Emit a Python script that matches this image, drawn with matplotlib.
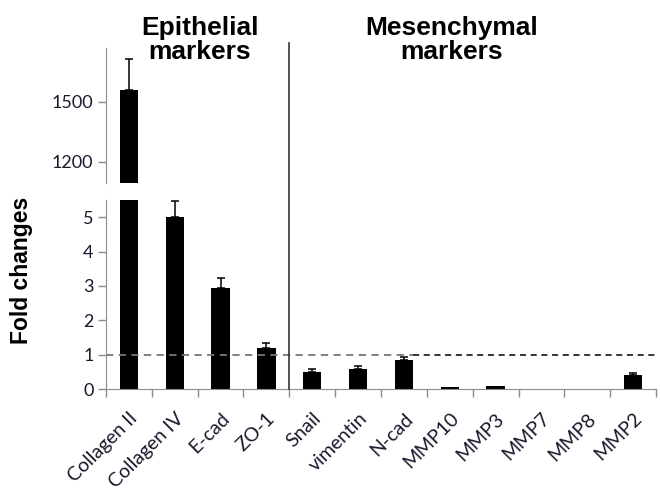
import numpy as np
import matplotlib
matplotlib.use('Agg')
import matplotlib.pyplot as plt
from matplotlib import transforms

markers = ["Collagen II", "Collagen IV", "E-cad", "ZO-1", "Snail", "vimentin",
           "N-cad", "MMP10", "MMP3", "MMP7", "MMP8", "MMP2"]
fold = [1560, 5.0, 2.93, 1.2, 0.5, 0.59, 0.85, 0.05, 0.1, 0.0, 0.0, 0.42]
err = [155, 0.47, 0.29, 0.13, 0.08, 0.09, 0.08, 0.0, 0.0, 0.0, 0.0, 0.04]
low_ticks = [0, 1, 2, 3, 4, 5]
high_ticks = [1200, 1500]
n_epithelial = 4

W, H = 660, 496
fig = plt.figure(figsize=(W / 100, H / 100), dpi=100)
ax_lo = fig.add_axes([106 / W, 1 - 389 / H, 550 / W, 189 / H])
ax_hi = fig.add_axes([106 / W, 1 - 183 / H, 550 / W, 135 / H])

x = np.arange(len(markers))
fold_arr = np.array(fold)
err_arr = np.array(err)
has_err = err_arr > 0
grey = '#8c8c8c'
tick_font = {'family': 'Lato', 'size': 13, 'color': '#1a1a2e'}

for ax in (ax_lo, ax_hi):
    ax.bar(x, fold, width=0.4, color='black')
    ax.errorbar(x[has_err], fold_arr[has_err],
                yerr=[np.zeros(has_err.sum()), err_arr[has_err]],
                fmt='none', ecolor='black', elinewidth=1.1, capsize=3.2, capthick=1.1)
    ax.set_xlim(-0.5, len(markers) - 0.5)
    for s in ('top', 'right'):
        ax.spines[s].set_visible(False)
    ax.spines['left'].set_color(grey)
    ax.tick_params(axis='y', direction='out', length=5.5, color=grey, width=1)
    ax.set_facecolor('none')

ax_lo.set_ylim(0, 5.5)
ax_lo.set_yticks(low_ticks)
ax_lo.set_yticklabels([str(t) for t in low_ticks], fontdict=tick_font)
ax_lo.spines['bottom'].set_color(grey)
ax_lo.set_xticks(x)
ax_lo.set_xticks(np.arange(len(markers) + 1) - 0.5, minor=True)
ax_lo.tick_params(axis='x', which='major', length=0, pad=15)
ax_lo.tick_params(axis='x', which='minor', direction='out', length=6, color=grey, width=1)
ax_lo.set_xticklabels(markers, rotation=45, ha='right', va='top',
                      rotation_mode='anchor', fontdict=dict(tick_font, size=14))

ax_hi.set_ylim(1095, 1770)
ax_hi.set_yticks(high_ticks)
ax_hi.set_yticklabels([str(t) for t in high_ticks], fontdict=tick_font)
ax_hi.spines['bottom'].set_visible(False)
ax_hi.set_xticks([])

# reference line at 1-fold
ax_lo.hlines(1, -0.5, 6.2, colors='#777777', linestyles=(0, (4, 3)), linewidth=1.3)
ax_lo.hlines(1, 6.2, len(markers) - 0.5, colors='black', linestyles=(0, (4, 3)), linewidth=1.1)

# separator between the two marker groups
blend = transforms.blended_transform_factory(ax_lo.transData, fig.transFigure)
fig.add_artist(plt.Line2D([n_epithelial - 0.5] * 2, [1 - 389 / H, 1 - 43 / H],
                          transform=blend, color='#333333', linewidth=1.2))

fig.text(200 / W, 1 - 40 / H, "Epithelial\nmarkers", ha='center', va='center',
         family='Liberation Sans', weight='bold', size=19, linespacing=1.05)
fig.text(452 / W, 1 - 40 / H, "Mesenchymal\nmarkers", ha='center', va='center',
         family='Liberation Sans', weight='bold', size=19, linespacing=1.05)
fig.text(22 / W, 1 - 270 / H, "Fold changes", ha='center', va='center', rotation=90,
         family='Liberation Sans', weight='bold', size=16.5)

fig.savefig('out.png', dpi=100)
